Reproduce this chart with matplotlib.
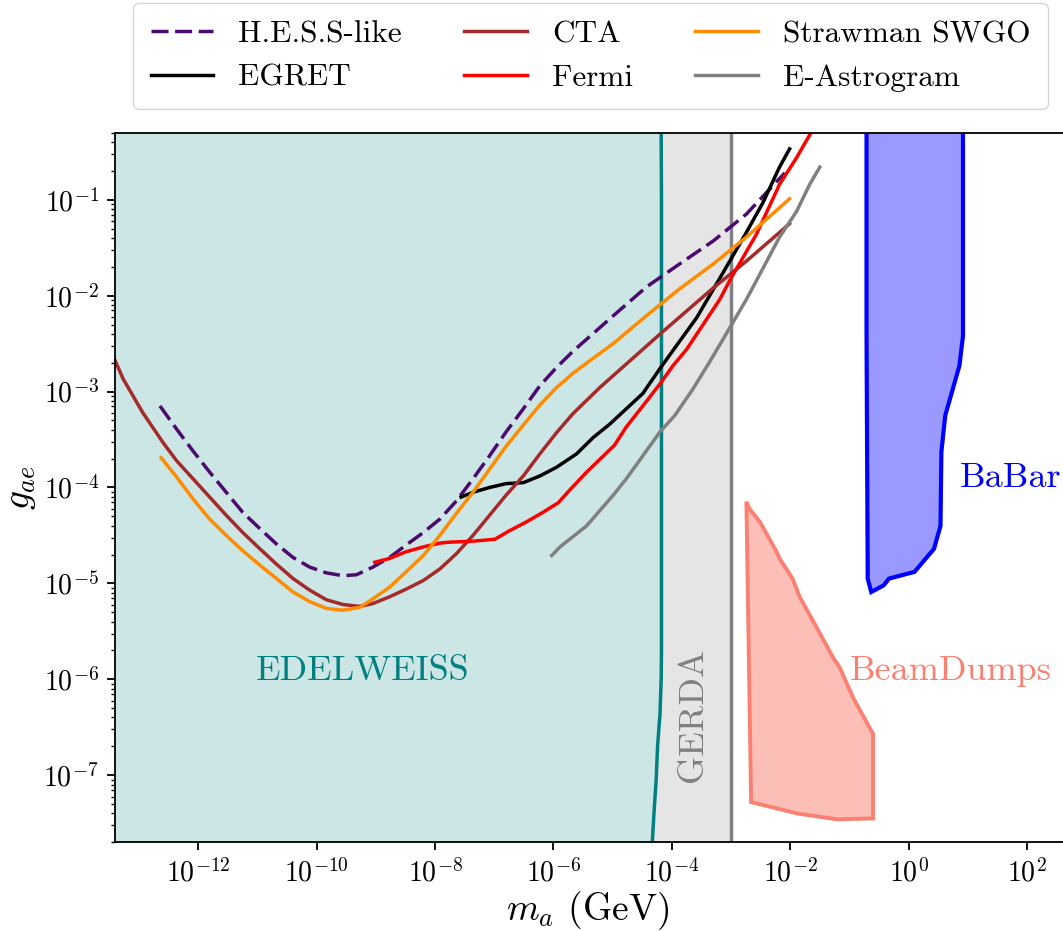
import numpy as np
import matplotlib
matplotlib.use('Agg')
import matplotlib.pyplot as plt
from matplotlib.ticker import NullLocator

plt.rcParams['font.family'] = 'serif'
plt.rcParams['font.serif'] = ['cmr10']
plt.rcParams['mathtext.fontset'] = 'cm'
plt.rcParams['axes.formatter.use_mathtext'] = True
plt.rcParams['axes.unicode_minus'] = False

#------ data, as log10 values (m_a in GeV, g_ae) ------
hess_logm = [-12.65, -12.37, -12.09, -11.81, -11.53, -11.25, -10.96, -10.68, -10.40, -10.12, -9.84, -9.56,
             -9.33, -9.05, -8.77, -8.49, -8.20, -7.92, -7.64, -7.36, -7.08, -6.80, -6.51, -6.23, -5.95,
             -5.67, -4.99, -4.43, -3.87, -3.30, -2.74, -2.09]
hess_logg = [-3.15, -3.39, -3.62, -3.84, -4.05, -4.26, -4.43, -4.59, -4.73, -4.83, -4.89, -4.92,
             -4.91, -4.83, -4.73, -4.60, -4.47, -4.33, -4.14, -3.91, -3.67, -3.42, -3.18, -2.94, -2.75,
             -2.58, -2.21, -1.91, -1.67, -1.43, -1.15, -0.72]

cta_logm = [-13.42, -13.27, -12.94, -12.60, -12.37, -12.09, -11.81, -11.53, -11.25, -10.96, -10.68, -10.40,
            -10.12, -9.84, -9.56, -9.27, -9.05, -8.77, -8.49, -8.20, -7.92, -7.64, -7.36, -7.08, -6.80,
            -6.51, -6.23, -5.95, -5.67, -5.22, -4.18, -3.30, -2.74, -2.01]
cta_logg = [-2.66, -2.87, -3.22, -3.53, -3.72, -3.91, -4.10, -4.29, -4.47, -4.64, -4.80, -4.95,
            -5.07, -5.17, -5.22, -5.24, -5.21, -5.14, -5.06, -4.97, -4.85, -4.69, -4.50, -4.29, -4.08,
            -3.88, -3.65, -3.43, -3.23, -2.96, -2.39, -1.92, -1.64, -1.25]

swgo_logm = [-12.63, -12.37, -12.09, -11.81, -11.53, -11.25, -10.96, -10.68, -10.40, -10.12, -9.84, -9.56,
             -9.27, -9.05, -8.77, -8.49, -8.20, -7.92, -7.64, -7.36, -7.08, -6.80, -6.51, -6.23, -5.95,
             -5.67, -5.39, -4.99, -4.43, -3.87, -3.30, -2.74, -2.01]
swgo_logg = [-3.69, -3.89, -4.12, -4.33, -4.50, -4.66, -4.81, -4.95, -5.09, -5.19, -5.26, -5.28,
             -5.25, -5.16, -5.04, -4.88, -4.71, -4.50, -4.27, -4.05, -3.81, -3.57, -3.35, -3.14, -2.96,
             -2.81, -2.68, -2.50, -2.21, -1.93, -1.67, -1.39, -0.99]

egret_logm = [-7.56, -7.36, -7.08, -6.80, -6.51, -6.23, -5.95, -5.61, -5.33, -5.05, -4.77, -4.49,
              -4.20, -3.92, -3.58, -3.02, -2.74, -2.46, -2.18, -2.01]
egret_logg = [-4.10, -4.05, -4.00, -3.96, -3.95, -3.88, -3.79, -3.65, -3.48, -3.34, -3.18, -3.02,
              -2.76, -2.52, -2.23, -1.64, -1.34, -1.03, -0.66, -0.47]

fermi_logm = [-9.02, -8.77, -8.49, -8.20, -7.92, -7.75, -7.36, -6.99, -6.74, -6.46, -6.18, -5.92,
              -5.73, -5.44, -4.97, -4.77, -4.49, -4.20, -3.98, -3.75, -3.47, -3.19, -3.02, -2.57,
              -2.18, -1.89, -1.61]
fermi_logg = [-4.78, -4.74, -4.67, -4.62, -4.58, -4.57, -4.56, -4.54, -4.45, -4.36, -4.26, -4.16,
              -4.03, -3.84, -3.56, -3.37, -3.15, -2.92, -2.73, -2.56, -2.30, -2.04, -1.84, -1.36,
              -0.84, -0.56, -0.26]

astro_logm = [-6.03, -5.89, -5.44, -4.99, -4.77, -4.49, -4.20, -3.95, -3.64, -3.36, -3.13, -2.74,
              -2.18, -1.89, -1.67, -1.50]
astro_logg = [-4.71, -4.62, -4.40, -4.08, -3.91, -3.67, -3.42, -3.25, -2.97, -2.69, -2.45, -2.04,
              -1.39, -1.12, -0.84, -0.66]

# EDELWEISS edge (excluded to the left of it), GERDA up to its mass line
edel_logm = [-4.18, -4.175, -4.175, -4.18, -4.20, -4.24, -4.265, -4.30, -4.33]
edel_logg = [-0.30, -1.0, -5.7, -6.0, -6.36, -6.69, -7.05, -7.38, -7.70]
gerda_m = 1e-3

babar_logm = [-0.71, -0.71, -0.69, -0.63, -0.42, -0.33, 0.10, 0.43, 0.54, 0.555, 0.62, 0.86, 0.92, 0.92]
babar_logg = [0.0, -2.4, -4.95, -5.09, -5.02, -4.95, -4.88, -4.64, -4.40, -3.63, -3.25, -2.73, -2.42, 0.0]

beam_logm = [-2.74, -2.69, -2.51, -2.24, -2.18, -1.96, -1.84, -1.57, -1.27, -1.17, -0.93, -0.60,
             -0.60, -1.20, -1.87, -2.66]
beam_logg = [-4.15, -4.22, -4.36, -4.66, -4.74, -4.95, -5.14, -5.44, -5.78, -5.87, -6.20, -6.57,
             -7.45, -7.46, -7.40, -7.28]

xmin, xmax = 3.9e-14, 6.5e2
ymin, ymax = 2e-8, 0.5

def v(a):
    return 10 ** np.array(a)

#------ plot ------
fig = plt.figure(figsize=(10.63, 9.31), dpi=100)
ax = fig.add_axes([0.1082, 0.0953, 0.9031, 0.7622])

ax.fill_betweenx(v(edel_logg), xmin, v(edel_logm), color='teal', alpha=0.2, lw=0)
ax.fill_betweenx(v(edel_logg), v(edel_logm), gerda_m, color='gray', alpha=0.2, lw=0)
ax.plot(v(edel_logm), v(edel_logg), color='teal', lw=2.5)
ax.axvline(gerda_m, color='gray', lw=2.5)

lw = 2.5
ax.plot(v(hess_logm), v(hess_logg), color='#4d0a6e', lw=lw, ls=(0, (4.9, 1.9)), label='H.E.S.S-like')
ax.plot(v(egret_logm), v(egret_logg), color='black', lw=lw, label='EGRET')
ax.plot(v(cta_logm), v(cta_logg), color='brown', lw=lw, label='CTA')
ax.plot(v(fermi_logm), v(fermi_logg), color='red', lw=lw, label='Fermi')
ax.plot(v(swgo_logm), v(swgo_logg), color='darkorange', lw=lw, label='Strawman SWGO')
ax.plot(v(astro_logm), v(astro_logg), color='gray', lw=lw, label='E-Astrogram')

ax.fill(v(beam_logm), v(beam_logg), facecolor=(0.98, 0.5, 0.45, 0.5), edgecolor='salmon', lw=2.8)
ax.fill(v(babar_logm), v(babar_logg), facecolor=(0, 0, 1, 0.4), edgecolor='blue', lw=3)

ax.text(6e-10, 9.8e-7, 'EDELWEISS', color='teal', fontsize=26, ha='center', va='baseline')
ax.text(2.3e-4, 4.3e-7, 'GERDA', color='gray', fontsize=26, rotation=90, ha='center', va='center')
ax.text(7.2, 1.02e-4, 'BaBar', color='blue', fontsize=26, ha='left', va='baseline')
ax.text(0.1, 9.8e-7, 'BeamDumps', color='salmon', fontsize=26, ha='left', va='baseline')

ax.set_xscale('log')
ax.set_yscale('log')
ax.set_xlim(xmin, xmax)
ax.set_ylim(ymin, ymax)
ax.set_xticks([1e-12, 1e-10, 1e-8, 1e-6, 1e-4, 1e-2, 1e0, 1e2])
ax.xaxis.set_minor_locator(NullLocator())
ax.tick_params(which='major', labelsize=20, length=5.5, width=1.3, pad=6)
ax.tick_params(which='minor', length=3.2, width=1.0)
for s in ax.spines.values():
    s.set_linewidth(1.3)

ax.set_xlabel('$m_a$ (GeV)', fontsize=27)
ax.xaxis.set_label_coords(0.492, -0.066)
ax.set_ylabel('$g_{ae}$', fontsize=27)

fig.legend(loc='upper center', bbox_to_anchor=(590.5 / 1063, 1 - 3 / 931), ncol=3, fontsize=22.5,
           borderaxespad=0, borderpad=0.55)

plt.savefig('out.png', dpi=100)
